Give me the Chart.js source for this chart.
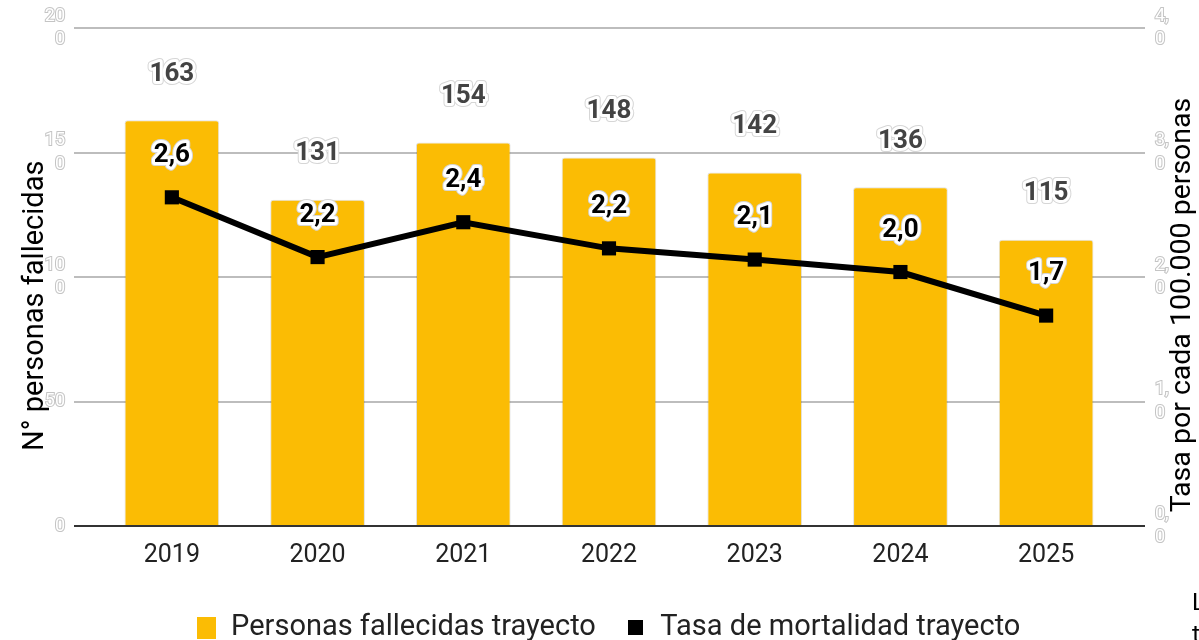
<!DOCTYPE html>
<html>
<head>
<meta charset="utf-8">
<script src="https://cdn.jsdelivr.net/npm/chart.js@4.4.1/dist/chart.umd.min.js"></script>
<style>
    html, body { margin: 0; padding: 0; background: #fff; overflow: hidden; }
    #wrap { position: relative; width: 1199px; height: 640px; overflow: hidden; }
    #note { position: absolute; left: 1192px; top: 586px; font: 24px Roboto, sans-serif; line-height: 32px; color: #000; white-space: nowrap; }
</style>
</head>
<body>
<div id="wrap">
    <canvas id="chart" width="1199" height="640"></canvas>
    <div id="note">La<br>tasa</div>
</div>
<script>
const years = ['2019', '2020', '2021', '2022', '2023', '2024', '2025'];
const fallecidos = [163, 131, 154, 148, 142, 136, 115];
const tasa = [2.64, 2.16, 2.44, 2.23, 2.14, 2.04, 1.69];
const leftTicks = [0, 50, 100, 150, 200];
const rightTicks = [0, 1, 2, 3, 4];

const GOLD = '#FBBC04';
const FONT = 'Roboto, sans-serif';

// split "200" -> ["20","0"], "4,0" -> ["4,","0"] like the wrapped labels in the picture
function wrapTick(s) {
    return s.length > 2 ? [s.slice(0, 2), s.slice(2)] : s;
}
function fmtTasa(v) {
    return (Math.round(v * 10) / 10).toFixed(1).replace('.', ',');
}
function gridColor(ctx) {
    return ctx.tick && ctx.tick.value === 0 ? '#333333' : '#bdbdbd';
}

function swatch(w, h, color) {
    const c = document.createElement('canvas');
    c.width = w;
    c.height = h;
    const g = c.getContext('2d');
    g.fillStyle = color;
    g.fillRect(0, 0, w, h);
    return c;
}
const barSwatch = swatch(19, 22, GOLD);
const lineSwatch = swatch(15, 15, '#000');

function haloText(ctx, text, x, y, color) {
    ctx.lineJoin = 'round';
    ctx.strokeStyle = '#d6d6d6';
    ctx.lineWidth = 8;
    ctx.strokeText(text, x, y);
    ctx.strokeStyle = '#ffffff';
    ctx.lineWidth = 6;
    ctx.strokeText(text, x, y);
    ctx.fillStyle = color;
    ctx.fillText(text, x, y);
}

const valueLabels = {
    id: 'valueLabels',
    afterDatasetsDraw(chart) {
        const ctx = chart.ctx;
        ctx.save();
        ctx.font = 'bold 26px ' + FONT;
        ctx.textAlign = 'center';
        ctx.textBaseline = 'middle';
        chart.getDatasetMeta(0).data.forEach((el, i) => {
            haloText(ctx, String(fallecidos[i]), el.x, el.y - 46, '#434343');
        });
        chart.getDatasetMeta(1).data.forEach((el, i) => {
            haloText(ctx, fmtTasa(tasa[i]), el.x, el.y - 42, '#000');
        });
        ctx.restore();
    }
};

const rightTitle = {
    id: 'rightTitle',
    afterDraw(chart) {
        const ctx = chart.ctx;
        ctx.save();
        ctx.translate(1183, 305);
        ctx.rotate(-Math.PI / 2);
        ctx.font = '28.5px ' + FONT;
        ctx.fillStyle = '#000';
        ctx.textAlign = 'center';
        ctx.textBaseline = 'middle';
        ctx.fillText('Tasa por cada 100.000 personas', 0, 0);
        ctx.restore();
    }
};

// keep the plot top on the 200 gridline: drop the auto padding for tick overflow
function fixVertical(width) {
    return scale => {
        scale.width = width;
        scale.paddingTop = 0;
        scale.paddingBottom = 0;
    };
}

new Chart(document.getElementById('chart'), {
    type: 'bar',
    data: {
        labels: years,
        datasets: [
            {
                label: 'Personas fallecidas trayecto',
                data: fallecidos,
                backgroundColor: GOLD,
                borderColor: 'rgba(0,0,0,0.12)',
                borderWidth: 1,
                borderRadius: 3,
                borderSkipped: 'bottom',
                categoryPercentage: 1,
                barPercentage: 0.65,
                yAxisID: 'y',
                order: 2
            },
            {
                type: 'line',
                label: 'Tasa de mortalidad trayecto',
                data: tasa,
                borderColor: '#000',
                backgroundColor: '#000',
                borderWidth: 6,
                pointStyle: 'rect',
                pointRadius: 10,
                pointBackgroundColor: '#000',
                pointBorderWidth: 0,
                tension: 0,
                yAxisID: 'y1',
                order: 1
            }
        ]
    },
    options: {
        responsive: false,
        animation: false,
        layout: { padding: { top: 28, left: 18, right: 0, bottom: -12 } },
        plugins: {
            tooltip: { enabled: false },
            legend: {
                position: 'bottom',
                labels: {
                    usePointStyle: true,
                    boxWidth: 20,
                    boxHeight: 22,
                    padding: 30,
                    color: '#222',
                    font: { family: FONT, size: 29 },
                    generateLabels(chart) {
                        return chart.data.datasets.map((ds, i) => ({
                            text: ds.label,
                            pointStyle: i === 0 ? barSwatch : lineSwatch,
                            fillStyle: ds.backgroundColor,
                            strokeStyle: ds.backgroundColor,
                            lineWidth: 0,
                            hidden: false,
                            datasetIndex: i,
                            fontColor: '#222'
                        }));
                    }
                }
            }
        },
        scales: {
            x: {
                grid: { display: false },
                border: { display: false },
                ticks: { color: '#222', padding: 7, font: { family: FONT, size: 25 } },
                afterFit(scale) { scale.height = 57; }
            },
            y: {
                position: 'left',
                min: 0,
                max: 200,
                afterBuildTicks(scale) { scale.ticks = leftTicks.map(v => ({ value: v })); },
                grid: { color: gridColor, lineWidth: 2, tickLength: 25 },
                border: { display: false },
                ticks: {
                    padding: 9,
                    color: '#ffffff',
                    textStrokeColor: '#c4c4c4',
                    textStrokeWidth: 2,
                    font: { family: FONT, size: 18, lineHeight: 1.33 },
                    callback: v => wrapTick(String(v))
                },
                title: {
                    display: true,
                    text: 'N° personas fallecidas        ',
                    color: '#000',
                    font: { family: FONT, size: 29 },
                    padding: { top: 0, bottom: 0 }
                },
                afterFit: fixVertical(81)
            },
            y1: {
                position: 'right',
                min: 0,
                max: 4,
                afterBuildTicks(scale) { scale.ticks = rightTicks.map(v => ({ value: v })); },
                grid: { color: gridColor, lineWidth: 2, tickLength: 26, drawOnChartArea: false },
                border: { display: false },
                ticks: {
                    padding: 10,
                    color: '#ffffff',
                    textStrokeColor: '#c4c4c4',
                    textStrokeWidth: 2,
                    font: { family: FONT, size: 18, lineHeight: 1.33 },
                    callback: v => wrapTick(v.toFixed(1).replace('.', ','))
                },
                afterFit: fixVertical(80)
            }
        }
    },
    plugins: [valueLabels, rightTitle]
});
</script>
</body>
</html>
